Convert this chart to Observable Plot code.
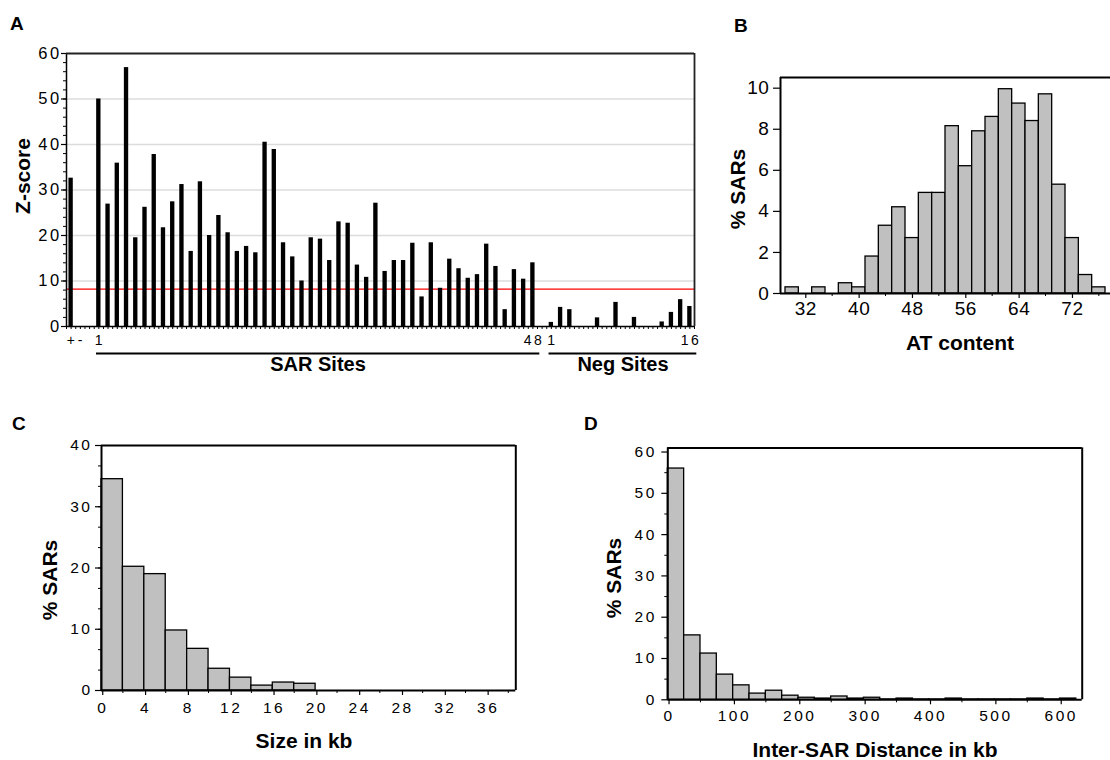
<!DOCTYPE html>
<html><head><meta charset="utf-8">
<script src="https://cdn.jsdelivr.net/npm/d3@7"></script>
<script src="https://cdn.jsdelivr.net/npm/@observablehq/plot@0.6"></script>
<style>
body{margin:0;background:#fff;}
#fig{position:relative;width:1110px;height:760px;overflow:hidden;font-family:"Liberation Sans",Arial,sans-serif;color:#000;background:#fff;}
.panel{position:absolute;}
.lbl{position:absolute;font-weight:bold;white-space:nowrap;line-height:1;}
.rot{transform:translate(-50%,-50%) rotate(-90deg);}
.ctr{transform:translate(-50%,-50%);}
</style></head><body>
<div id="fig">
  <div class="panel" id="pA" style="left:0;top:0"></div>
  <div class="panel" id="pB" style="left:720px;top:0"></div>
  <div class="panel" id="pC" style="left:0;top:400px"></div>
  <div class="panel" id="pD" style="left:580px;top:400px"></div>
  <div class="lbl" style="left:10px;top:14px;font-size:19px">A</div>
  <div class="lbl" style="left:734px;top:16px;font-size:19px">B</div>
  <div class="lbl" style="left:12px;top:414px;font-size:19px">C</div>
  <div class="lbl" style="left:584px;top:414px;font-size:19px">D</div>
  <div class="lbl rot" style="left:22px;top:176px;font-size:21px">Z-score</div>
  <div class="lbl ctr" style="left:318px;top:364px;font-size:20px">SAR Sites</div>
  <div class="lbl ctr" style="left:623px;top:364px;font-size:20px">Neg Sites</div>
  <div class="lbl rot" style="left:737px;top:189px;font-size:21px">% SARs</div>
  <div class="lbl ctr" style="left:960px;top:342px;font-size:21px">AT content</div>
  <div class="lbl rot" style="left:49px;top:580px;font-size:21px">% SARs</div>
  <div class="lbl ctr" style="left:304px;top:740px;font-size:21px">Size in kb</div>
  <div class="lbl rot" style="left:613px;top:578px;font-size:21px">% SARs</div>
  <div class="lbl ctr" style="left:875px;top:749px;font-size:21px">Inter-SAR Distance in kb</div>
</div>
<script>
// ---------- Panel A data ----------
const controlLabels = ["+", "-"];
const controlZ = [32.6, 0];
const sarZ = [50.0, 26.9, 35.9, 56.9, 19.5, 26.2, 37.8, 21.7, 27.4, 31.2, 16.5, 31.8, 20.0, 24.4, 20.6, 16.5,
  17.6, 16.2, 40.5, 38.9, 18.4, 15.3, 10.0, 19.5, 19.2, 14.5, 23.0, 22.7, 13.5, 10.8, 27.1, 12.1,
  14.5, 14.5, 18.3, 6.5, 18.4, 8.4, 14.8, 12.7, 10.6, 11.4, 18.1, 13.2, 3.7, 12.5, 10.4, 14.0];
const negZ = [0.9, 4.2, 3.7, 0, 0, 1.9, 0, 5.3, 0, 2.0, 0, 0, 1.0, 3.1, 5.9, 4.4];
const groupNames = ["SAR Sites", "Neg Sites"];
const zThreshold = 8.2;
const zTicks = [0, 10, 20, 30, 40, 50, 60];

// ---------- Panel B data (AT content, bins of 2) ----------
const atBinStart = [29, 31, 33, 35, 37, 39, 41, 43, 45, 47, 49, 51, 53, 55, 57, 59, 61, 63, 65, 67, 69, 71, 73, 75];
const atPct = [0.3, 0, 0.3, 0, 0.5, 0.3, 1.8, 3.3, 4.2, 2.7, 4.9, 4.9, 8.15, 6.2, 7.9, 8.6, 9.95, 9.25, 8.4, 9.7, 5.3, 2.7, 0.9, 0.3];
const atTicks = [32, 40, 48, 56, 64, 72];
const atPctTicks = [0, 2, 4, 6, 8, 10];

// ---------- Panel C data (size in kb, bins of 2) ----------
const sizeBinStart = [0, 2, 4, 6, 8, 10, 12, 14, 16, 18];
const sizePct = [34.5, 20.2, 19.0, 9.8, 6.8, 3.55, 2.1, 0.8, 1.3, 1.1];
const sizeTicks = [0, 4, 8, 12, 16, 20, 24, 28, 32, 36];
const sizePctTicks = [0, 10, 20, 30, 40];

// ---------- Panel D data (inter-SAR distance, bins of 25) ----------
const distBinStart = [0, 25, 50, 75, 100, 125, 150, 175, 200, 225, 250, 275, 300, 325, 350, 375, 400, 425, 450, 475, 500, 525, 550, 575, 600];
const distPct = [56, 15.6, 11.2, 6.1, 3.5, 1.5, 2.2, 1.0, 0.5, 0.3, 0.8, 0.3, 0.5, 0.1, 0.3, 0.1, 0.1, 0.3, 0.1, 0.1, 0.1, 0.1, 0.3, 0.1, 0.3];
const distTicks = [0, 100, 200, 300, 400, 500, 600];
const distPctTicks = [0, 10, 20, 30, 40, 50, 60];

const FONT = "Liberation Sans, Arial, sans-serif";
const baseStyle = {fontFamily: FONT, background: "transparent", overflow: "visible", color: "#000", maxWidth: "none"};

// ---------- Build panel A ----------
let slot = 0;
const bars = [];
controlZ.forEach((z, i) => bars.push({slot: slot++, z, label: controlLabels[i], show: true}));
slot += 1;
const sarStart = slot;
sarZ.forEach((z, i) => bars.push({slot: slot++, z, label: String(i + 1), show: i === 0 || i === sarZ.length - 1}));
const sarEnd = slot - 1;
slot += 1;
const negStart = slot;
negZ.forEach((z, i) => bars.push({slot: slot++, z, label: String(i + 1), show: i === 0 || i === negZ.length - 1}));
const negEnd = slot - 1;
const nSlots = slot;
const groups = [
  {name: groupNames[0], start: sarStart, end: sarEnd},
  {name: groupNames[1], start: negStart, end: negEnd}
];
const xLo = -0.5, xHi = nSlots - 0.5;

const plotA = Plot.plot({
  width: 720, height: 390,
  marginLeft: 66, marginRight: 26, marginTop: 53, marginBottom: 64,
  style: {...baseStyle, fontSize: "16px", letterSpacing: "2.4px"},
  x: {domain: [xLo, xHi], axis: null},
  y: {domain: [0, 60], axis: null},
  marks: [
    Plot.gridY([10, 20, 30, 40, 50], {stroke: "#dcdcdc", strokeOpacity: 1, strokeWidth: 1.3}),
    Plot.ruleY([zThreshold], {stroke: "#ff0000", strokeWidth: 1.3}),
    Plot.rectY(bars.filter(d => d.z > 0), {x1: d => d.slot - 0.5, x2: d => d.slot + 0.5, y: "z", fill: "#000", insetLeft: 2.45, insetRight: 2.45}),
    Plot.axisY({ticks: zTicks, tickSize: 5, tickPadding: 0, fontSize: 16.5, label: null, strokeWidth: 1.2}),
    Plot.axisY({ticks: d3.range(0, 61, 2), tickSize: 3, tickFormat: () => "", label: null}),
    Plot.axisX({ticks: d3.range(xLo, xHi + 0.01, 0.5), tickSize: 3, tickFormat: () => "", label: null}),
    Plot.ruleX([xLo], {stroke: "#000", strokeWidth: 1.5}),
    Plot.ruleX([xHi], {stroke: "#222", strokeWidth: 1.8}),
    Plot.ruleY([60], {stroke: "#222", strokeWidth: 1.8}),
    Plot.ruleY([0], {stroke: "#000", strokeWidth: 1.5}),
    Plot.text(bars.filter(d => d.show), {x: "slot", y: 0, dy: 14, dx: 1, text: "label", fontSize: 14, fill: "#000"}),
    Plot.ruleY(groups, {y: 0, x1: d => d.start - 0.25, x2: d => d.end + 0.75, dy: 27, stroke: "#000", strokeWidth: 2.2})
  ]
});
document.getElementById("pA").appendChild(plotA);

// ---------- Histogram helper ----------
function histPanel({starts, values, binW, xDomain, yDomain, xTicks, xMinor, yTicks, yMinor, width, height, margins, fontSize, spacing, yTick, xTick}) {
  const data = starts.map((s, i) => ({x1: s, x2: s + binW, v: values[i]})).filter(d => d.v > 0);
  return Plot.plot({
    width, height, ...margins,
    style: {...baseStyle, fontSize: fontSize + "px", letterSpacing: spacing + "px"},
    x: {domain: xDomain, axis: null},
    y: {domain: yDomain, axis: null},
    marks: [
      Plot.rectY(data, {x1: "x1", x2: "x2", y: "v", fill: "#c0c0c0", stroke: "#000", strokeWidth: 1.3}),
      Plot.axisY({ticks: yTicks, tickSize: yTick[0], tickPadding: yTick[1], fontSize, label: null, strokeWidth: 1.2}),
      yMinor ? Plot.axisY({ticks: yMinor, tickSize: 3, tickFormat: () => "", label: null}) : null,
      Plot.axisX({ticks: xTicks, tickSize: xTick[0], tickPadding: xTick[1], fontSize, dx: spacing / 2, label: null, strokeWidth: 1.2}),
      xMinor ? Plot.axisX({ticks: xMinor, tickSize: 3, tickFormat: () => "", label: null}) : null,
      Plot.ruleX([xDomain[0]], {stroke: "#000", strokeWidth: 2}),
      Plot.ruleX([xDomain[1]], {stroke: "#000", strokeWidth: 2}),
      Plot.ruleY([yDomain[1]], {stroke: "#000", strokeWidth: 2}),
      Plot.ruleY([yDomain[0]], {stroke: "#000", strokeWidth: 2})
    ]
  });
}

// Panel B
document.getElementById("pB").appendChild(histPanel({
  starts: atBinStart, values: atPct, binW: 2,
  xDomain: [28.25, 78.2], yDomain: [0, 10.52],
  xTicks: atTicks, xMinor: [36, 44, 52, 60, 68, 76], yTicks: atPctTicks, yMinor: null,
  width: 400, height: 380,
  margins: {marginLeft: 60, marginRight: 7, marginTop: 77, marginBottom: 87},
  fontSize: 19, spacing: 0.6, yTick: [7, 4], xTick: [5, 3]
}));

// Panel C
document.getElementById("pC").appendChild(histPanel({
  starts: sizeBinStart, values: sizePct, binW: 2,
  xDomain: [0, 38.7], yDomain: [0, 40],
  xTicks: sizeTicks, xMinor: [2, 6, 10, 14, 18, 22, 26, 30, 34, 38], yTicks: sizePctTicks,
  yMinor: d3.range(0, 40, 10 / 3),
  width: 560, height: 360,
  margins: {marginLeft: 101, marginRight: 44.7, marginTop: 45, marginBottom: 70},
  fontSize: 15.5, spacing: 2.5, yTick: [6, 3], xTick: [5, 6]
}));

// Panel D
document.getElementById("pD").appendChild(histPanel({
  starts: distBinStart, values: distPct, binW: 25,
  xDomain: [0, 634], yDomain: [0, 61],
  xTicks: distTicks, xMinor: [50, 150, 250, 350, 450, 550], yTicks: distPctTicks,
  yMinor: [5, 15, 25, 35, 45, 55],
  width: 530, height: 360,
  margins: {marginLeft: 87.3, marginRight: 28.3, marginTop: 47.4, marginBottom: 60.7},
  fontSize: 15.5, spacing: 2.5, yTick: [6, 5], xTick: [5, 5]
}));
</script>
</body></html>
